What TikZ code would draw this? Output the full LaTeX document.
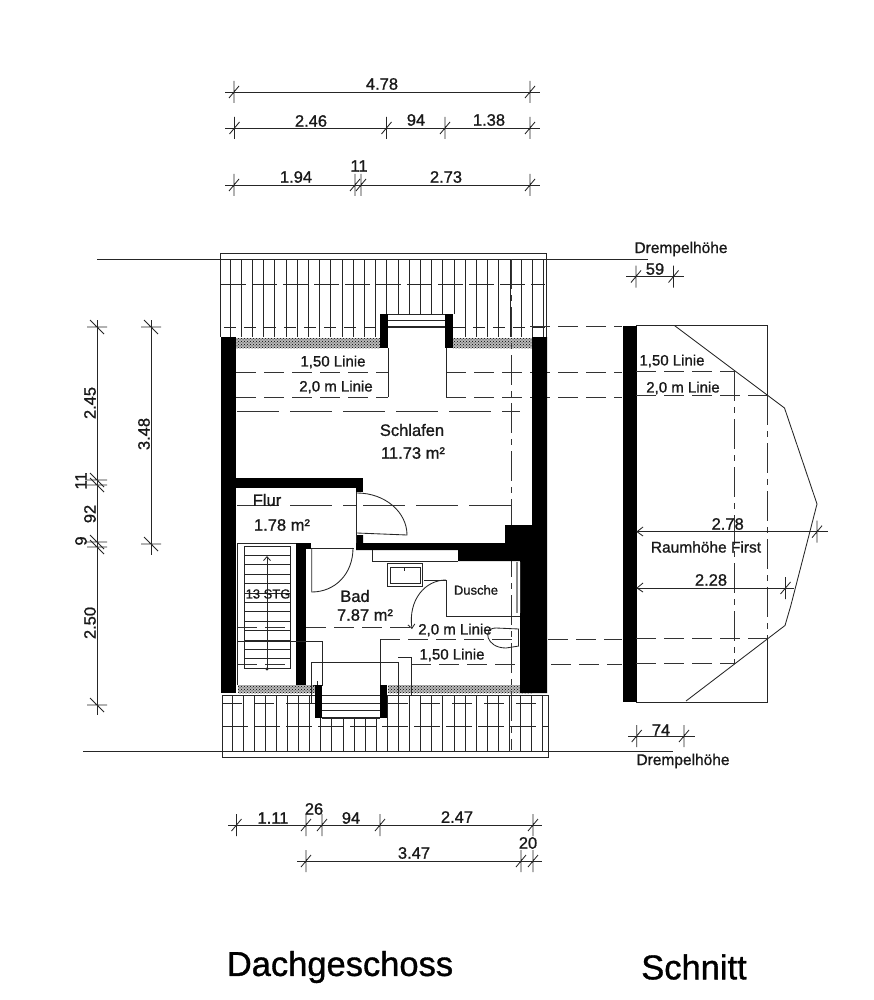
\documentclass[tikz,border=0pt]{standalone}
\usepackage{fontspec}
\setmainfont{Liberation Sans}[RawFeature={embolden=1.0}]
\usetikzlibrary{arrows.meta,patterns}
\newcommand{\tickH}[2]{\draw[dimline] (#1,#2-11)--(#1,#2+11) (#1-5,#2+6)--(#1+5,#2-6);}
\newcommand{\tickV}[2]{\draw[dimline] (#1-10,#2)--(#1+10,#2) (#1-7,#2-7)--(#1+7,#2+7);}
\tikzset{
  thin line/.style={line width=0.85pt,draw=black!85},
  dimline/.style={line width=0.85pt,draw=black!85},
  wallfill/.style={fill=black,draw=none},
  dither/.style={pattern=crosshatch dots,pattern color=black},
  dithbase/.style={fill=black!28,draw=none},
  dash short/.style={line width=0.85pt,draw=black!80,dash pattern=on 20pt off 8pt},
  dash long/.style={line width=0.85pt,draw=black!80,dash pattern=on 42pt off 11pt},
  dash axis/.style={line width=0.85pt,draw=black!80,dash pattern=on 30pt off 6pt on 6pt off 6pt},
  lbl/.style={font=\fontsize{16.5}{17}\selectfont,inner sep=0pt,text=black!90},
  lblsmall/.style={font=\fontsize{15}{16}\selectfont,inner sep=0pt,text=black!90},
  lbltiny/.style={font=\fontsize{13}{14}\selectfont,inner sep=0pt,text=black!90},
  title/.style={font=\fontsize{34.5}{36}\selectfont,inner sep=0pt,text=black},
}
\begin{document}
\begin{tikzpicture}[x=1pt,y=-1pt]
\useasboundingbox (0,0) rectangle (873,1000);
\fill[white] (0,0) rectangle (873,1000);

% --- top dimensions
\draw[dimline] (225,92)--(540,92);
\tickH{234}{92}\tickH{530}{92}
\node[lbl] (d478) at (382,84) {4.78};
\draw[dimline] (225,128)--(540,128);
\tickH{234.5}{128}\tickH{386.5}{128}\tickH{445}{128}\tickH{530}{128}
\node[lbl] (d246) at (311,121) {2.46};
\node[lbl] (d94a) at (416,120) {94};
\node[lbl] (d138) at (489,120) {1.38};
\draw[dimline] (225,185)--(540,185);
\tickH{234}{185}\tickH{355}{185}\tickH{361}{185}\tickH{530}{185}
\node[lbl] (d194) at (296,177) {1.94};
\node[lbl] (d11a) at (359,166) {11};
\node[lbl] (d273) at (446,177) {2.73};

% --- left dimensions
\draw[dimline] (97,320)--(97,715);
\tickV{97}{327}\tickV{97}{480}\tickV{97}{485}\tickV{97}{542}\tickV{97}{547}\tickV{97}{705}
\draw[dimline] (151,320)--(151,555);
\tickV{151}{327}\tickV{151}{544}
\node[lbl,rotate=90] (d245) at (90,403) {2.45};
\node[lbl,rotate=90] (d11b) at (81,481) {11};
\node[lbl,rotate=90] (d92) at (90,514) {92};
\node[lbl,rotate=90] (d9) at (81,541) {9};
\node[lbl,rotate=90] (d250) at (90,623) {2.50};
\node[lbl,rotate=90] (d348) at (144,434) {3.48};

% --- bottom dimensions
\draw[dimline] (228,825)--(542,825);
\tickH{236.5}{825}\tickH{306}{825}\tickH{322}{825}\tickH{380}{825}\tickH{533}{825}
\node[lbl] (d111) at (273,818) {1.11};
\node[lbl] (d26) at (314,809) {26};
\node[lbl] (d94b) at (351,818) {94};
\node[lbl] (d247) at (457,817) {2.47};
\draw[dimline] (297,861)--(542,861);
\tickH{306}{861}\tickH{521}{861}\tickH{533}{861}
\node[lbl] (d347) at (414,853) {3.47};
\node[lbl] (d20) at (528,843) {20};

% --- roof top
\draw[thin line] (220,259)--(220,253)--(546,253)--(546,259);
\draw[thin line] (97,259)--(648,259);
\foreach \k in {0,...,28}{
  \pgfmathsetmacro{\xx}{230+11.2*\k}
  \pgfmathsetmacro{\yy}{(\xx>378 && \xx<455) ? 314 : 337}
  \draw[thin line] (\xx,259)--(\xx,\yy);
}
\draw[thin line] (220,259)--(220,337) (546,259)--(546,337);
\draw[thin line,dash pattern=on 25pt off 6pt] (221,284)--(545,284);
\draw[thin line,dash pattern=on 12pt off 8pt] (224,327)--(380,327) (453,327)--(545,327);
\fill[white] (388,314) rectangle (445,348);

% --- roof bottom
\draw[thin line] (222,695) rectangle (548,757);
\draw[thin line] (83,751)--(673,751);
\foreach \k in {0,...,28}{
  \pgfmathsetmacro{\xx}{232+11.1*\k}
  \pgfmathsetmacro{\yy}{(\xx>320 && \xx<382) ? 718 : 695}
  \draw[thin line] (\xx,\yy)--(\xx,751);
}
\draw[thin line,dash pattern=on 26pt off 6pt] (222,726)--(548,726);
\draw[thin line,dash pattern=on 20pt off 12pt] (222,703)--(315,703) (388,703)--(548,703);

% --- dithered eaves strips
\foreach \ax/\ay/\bx/\by in {236/338/380/348,453/338/532/348,238/685/315/693,388/685/532/693}{
  \fill[dithbase] (\ax,\ay) rectangle (\bx,\by);
  \fill[dither] (\ax,\ay) rectangle (\bx,\by);
}

% --- lines in the upper rooms
\draw[dash short] (236,372)--(388,372) (446,372)--(622,372);
\draw[dash short] (236,397)--(388,397) (446,397)--(622,397);
\draw[thin line] (388,348)--(388,397) (446,348)--(446,397);
\draw[dash long] (237,411)--(520,411);
\draw[dash long] (237,505)--(356,505) (363,505)--(520,505);
\draw[dash axis] (511,259)--(511,750);
\draw[dash short] (530,326)--(622,326);
\draw[dash short] (237,627)--(290,627) (306,627)--(412,627);
\draw[dash short] (380,639)--(622,639);
\draw[dash short] (237,664)--(290,664) (411,664)--(622,664);

% --- dormer top
\draw[thin line] (388,314)--(445,314) (388,320)--(445,320);
\draw[line width=1.3pt,draw=black!85] (388,327)--(445,327);
\fill[wallfill] (380,314) rectangle (388,348);
\fill[wallfill] (445,314) rectangle (453,348);

% --- outer walls
\fill[wallfill] (221,337) rectangle (236,693);
\fill[wallfill] (532,337) -- (547,337) -- (547,693) -- (520,693) -- (520,561) -- (458,561) -- (458,550) -- (356,550) -- (356,535) -- (363,535) -- (363,543) -- (505,543) -- (505,525) -- (532,525) -- cycle;

% --- Flur walls, door
\fill[wallfill] (236,478) rectangle (363,488);
\fill[wallfill] (356,478) rectangle (363,492);
\draw[thin line] (356.5,492)--(356.5,543);
\draw[thin line] (357,493) .. controls (385,493) and (407,512) .. (407,535)--(357,533);
\fill[wallfill] (296,543) rectangle (306,685);
\fill[wallfill] (296,543) rectangle (311,549);
\draw[thin line] (237,543)--(296,543);
\draw[thin line] (237,543)--(237,685);
\draw[thin line] (311,548)--(354,548);
\draw[thin line] (311.7,548)--(311.7,592) .. controls (335,592) and (353,574) .. (353,548);

% --- stairs
\draw[thin line] (244,546)--(244,668)--(290,668)--(290,546)--cycle;
\foreach \k in {1,...,12}{\draw[thin line] (244,546+9.4*\k)--(290,546+9.4*\k);}
\draw[thin line,-{Straight Barb[length=4pt,width=7pt]}] (267,669)--(267,556);
\fill[black!85] (267,669) circle (1.6);
\node[lbltiny] (stg) at (268,594) {13 STG};

% --- bathroom
\draw[thin line] (372,550)--(372,561)--(458,561);
\draw[thin line] (387,563) rectangle (422,586);
\draw[thin line] (390,567) rectangle (420,583);
\draw[thin line] (404,567)--(404,571);
\draw[thin line] (424,580)--(446,580)--(446,616)--(520,616);
\draw[thin line,-{Straight Barb[length=4pt,width=7pt]}] (446,580) .. controls (425,580) and (408,600) .. (412,629);
\draw[line width=1.6pt,draw=black!45] (517,562)--(517,613);
\draw[thin line] (520,562)--(520,613);
\draw[thin line] (519,629)--(496,628) .. controls (482,628) and (486,648) .. (506,648)--(519,646);
\draw[thin line] (518,629) -- (518,646);

% --- lower dormer lines
\draw[thin line] (237,641)--(322,641)--(322,685);
\draw[thin line] (380,685)--(380,639);
\draw[thin line] (311,703)--(311,662)--(398,662)--(398,697);
\draw[thin line] (398,657)--(411,657)--(411,695);
\draw[thin line] (306,703)--(315,703);
\draw[thin line] (317,681)--(317,689) (313,685)--(323,685);
\fill[wallfill] (315,685) rectangle (322,718);
\fill[wallfill] (380,685) rectangle (387,718);
\draw[thin line] (322,703)--(380,703) (322,710)--(380,710);
\draw[line width=1.3pt,draw=black!85] (322,718)--(380,718);

% --- room labels
\node[lblsmall] (l150a) at (333,362) {1,50 Linie};
\node[lblsmall] (l20a) at (336,387) {2,0 m Linie};
\node[lbl] (schlafen) at (412,430) {Schlafen};
\node[lbl] (schlafenm) at (413,453) {11.73 m²};
\node[lbl] (flur) at (267,500) {Flur};
\node[lbl] (flurm) at (282,525) {1.78 m²};
\node[lbl] (bad) at (355,596) {Bad};
\node[lbl] (badm) at (365,615) {7.87 m²};
\node[lbltiny] (dusche) at (476,590) {Dusche};
\node[lblsmall] (l20b) at (455,630) {2,0 m Linie};
\node[lblsmall] (l150b) at (452,655) {1,50 Linie};

% --- section
\fill[wallfill] (622.5,325.5) rectangle (636.5,702);
\draw[thin line] (636,325.6)--(767,325.6)--(767,395);
\draw[thin line] (636,702)--(767,702)--(767,638.5);
\draw[dash axis] (767,395)--(767,638.5);
\draw[dash axis] (734,371)--(734,664);
\draw[thin line] (674.5,325.6)--(784.5,408)--(817,504)--(790.7,606)--(785,625.5)--(686,701);
\draw[dash short] (636,371)--(734,371);
\draw[dash short] (636,395)--(767,395);
\draw[dash short] (636,638.5)--(767,638.5);
\draw[dash short] (636,663)--(734,663);
\draw[dimline] (637,531.7)--(827.5,531.7);
\draw[dimline] (643,527)--(637,531.7)--(643,536);
\tickH{817}{531.7}
\draw[dimline] (637,588)--(794,588);
\draw[dimline] (643,583)--(637,588)--(643,592);
\tickH{785.5}{588}
\draw[dimline] (626,276.5)--(684,276.5);
\tickH{636}{276.5}\tickH{673.5}{276.5}
\draw[dimline] (628,736)--(694.5,736);
\tickH{636.7}{736}\tickH{684}{736}
\node[lblsmall] (l150c) at (672,361) {1,50 Linie};
\node[lblsmall] (l20c) at (683,388) {2,0 m Linie};
\node[lbl] (d278) at (727.7,524) {2.78};
\node[lblsmall,font=\fontsize{15.5}{16}\selectfont] (first) at (706,547) {Raumhöhe First};
\node[lbl] (d228) at (711,580) {2.28};
\node[lbl] (d59) at (655,269) {59};
\node[lbl] (d74) at (661,730) {74};
\node[lblsmall,font=\fontsize{15.5}{16}\selectfont] (dh1) at (681,249) {Drempelhöhe};
\node[lblsmall,font=\fontsize{15.5}{16}\selectfont] (dh2) at (683,761) {Drempelhöhe};

% --- titles
\node[title] (t1) at (340,967) {Dachgeschoss};
\node[title] (t2) at (694,967) {Schnitt};
\end{tikzpicture}
\end{document}
